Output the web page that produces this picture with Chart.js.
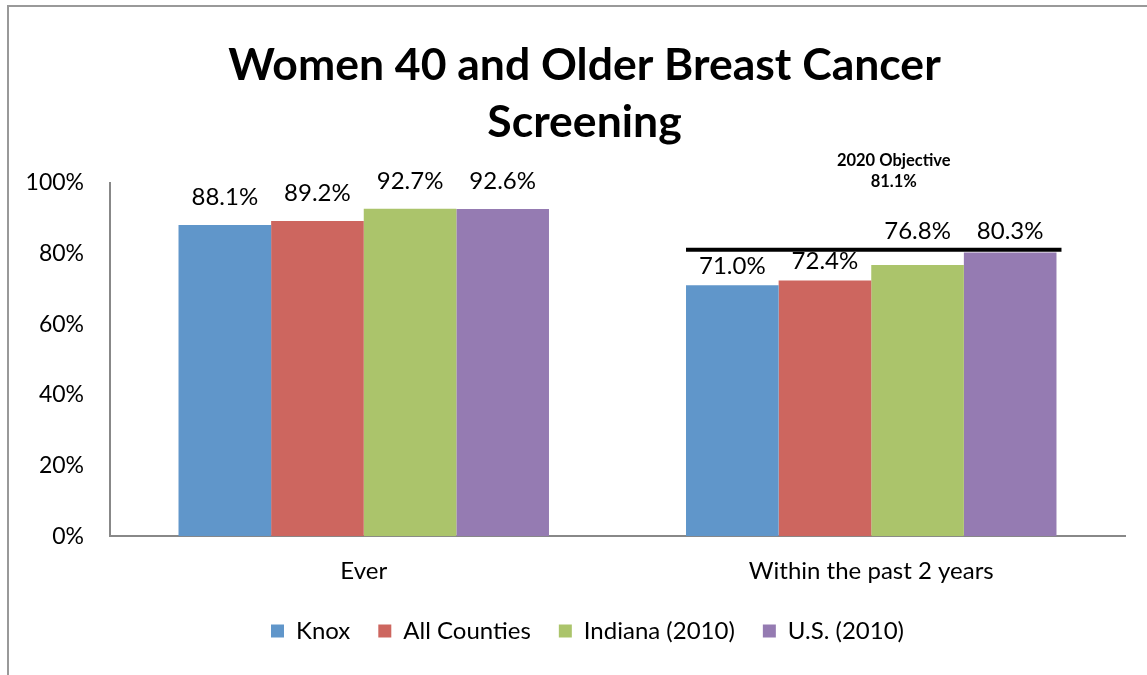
<!DOCTYPE html>
<html>
<head>
<meta charset="utf-8">
<script src="https://cdn.jsdelivr.net/npm/chart.js@4/dist/chart.umd.min.js"></script>
<style>
  html, body { margin: 0; padding: 0; background: #fff; overflow: hidden; }
  #wrap { width: 1147px; height: 675px; }
</style>
</head>
<body>
<div id="wrap"><canvas id="chart" width="1147" height="675"></canvas></div>
<script>
const categories = ["Ever", "Within the past 2 years"]
const seriesNames = ["Knox", "All Counties", "Indiana (2010)", "U.S. (2010)"]
const knox = [88.1, 71.0]
const allCounties = [89.2, 72.4]
const indiana = [92.7, 76.8]
const us = [92.6, 80.3]
const objective = 81.1
const yTicks = [0, 20, 40, 60, 80, 100]

const colors = ["#6096CA", "#CD665F", "#ABC46B", "#957BB2"]
const font = "Lato, 'Open Sans', sans-serif"
const labelGap = [20, 11]

// frame round the whole chart
const framePlugin = {
    id: "frame",
    beforeDraw(chart) {
        const ctx = chart.ctx
        ctx.save()
        ctx.strokeStyle = "#999"
        ctx.lineWidth = 2
        ctx.strokeRect(8, 6, 1300, 1000)
        ctx.restore()
    }
}

// the original frame is cut off on the right, so title and legend sit a bit right of centre
const shiftPlugin = {
    id: "shift",
    afterLayout(chart) {
        chart.titleBlock.left += 12
        chart.titleBlock.right += 12
        chart.legend.left += 15
        chart.legend.right += 15
    }
}

// value labels above bars + objective line
const labelPlugin = {
    id: "labels",
    afterDatasetsDraw(chart) {
        const ctx = chart.ctx
        const y = chart.scales.y
        const lineY = y.getPixelForValue(objective)
        const first = chart.getDatasetMeta(0).data[1]
        const last = chart.getDatasetMeta(3).data[1]
        const x0 = first.x - first.width / 2
        const x1 = last.x + last.width / 2 + 5

        ctx.save()
        ctx.strokeStyle = "#000"
        ctx.lineWidth = 4
        ctx.beginPath()
        ctx.moveTo(x0, lineY)
        ctx.lineTo(x1, lineY)
        ctx.stroke()

        ctx.fillStyle = "#000"
        ctx.textAlign = "center"
        ctx.textBaseline = "alphabetic"
        ctx.font = "bold 16.5px " + font
        const cx = (x0 + x1) / 2 + 20
        ctx.fillText("2020 Objective", cx, lineY - 84)
        ctx.fillText(objective.toFixed(1) + "%", cx, lineY - 63)

        ctx.font = "24px " + font
        chart.data.datasets.forEach((ds, i) => {
            chart.getDatasetMeta(i).data.forEach((bar, j) => {
                let base = bar.y - labelGap[j]
                // labels close to the objective go above the line
                if (j == 1 && ds.data[j] > 75) base = Math.min(base, lineY - 11)
                ctx.fillText(ds.data[j].toFixed(1) + "%", bar.x, base)
            })
        })
        ctx.restore()
    }
}

const dataChart = {
    labels: categories,
    datasets: [knox, allCounties, indiana, us].map((vals, i) => ({
        label: seriesNames[i],
        data: vals,
        backgroundColor: colors[i],
        borderWidth: 0,
        barPercentage: 1,
        categoryPercentage: 0.73
    }))
}

const config = {
    type: "bar",
    data: dataChart,
    plugins: [framePlugin, shiftPlugin, labelPlugin],
    options: {
        responsive: false,
        animation: false,
        layout: { padding: { left: 20, right: 22, top: 28, bottom: 22 } },
        plugins: {
            title: {
                display: true,
                text: ["Women 40 and Older Breast Cancer", "Screening"],
                color: "#000",
                font: { family: font, size: 44.5, weight: "bold", lineHeight: 1.28 },
                padding: { top: 9, bottom: 32 }
            },
            legend: {
                position: "bottom",
                labels: {
                    color: "#000",
                    font: { family: font, size: 24 },
                    boxWidth: 13,
                    boxHeight: 13,
                    padding: 28
                }
            },
            tooltip: { enabled: false }
        },
        scales: {
            x: {
                grid: { display: false },
                border: { color: "#888", width: 2 },
                ticks: { color: "#000", font: { family: font, size: 24 }, padding: 13 },
                afterFit: scale => { scale.height -= 8 }
            },
            y: {
                min: 0,
                max: 100,
                afterBuildTicks: axis => { axis.ticks = yTicks.map(v => ({ value: v })) },
                afterFit: scale => { scale.width = 90 },
                grid: { display: false },
                border: { color: "#888", width: 2 },
                ticks: {
                    color: "#000",
                    font: { family: font, size: 23 },
                    padding: 18,
                    callback: v => v + "%"
                }
            }
        }
    }
}

new Chart(document.getElementById("chart"), config)
</script>
</body>
</html>
